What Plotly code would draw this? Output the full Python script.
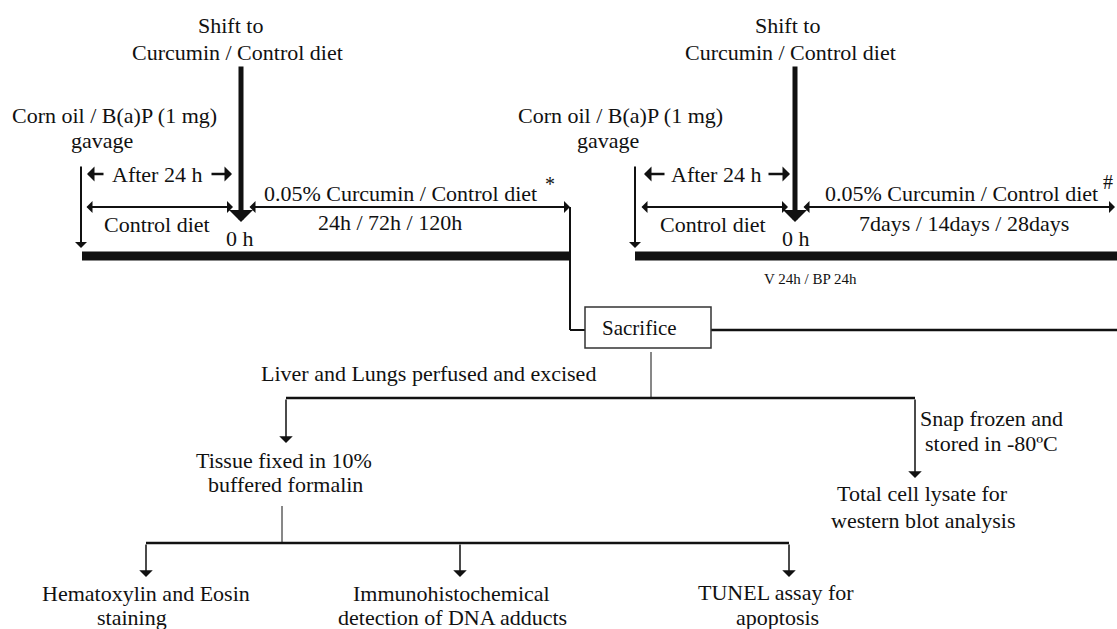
import plotly.graph_objects as go

W, H = 1117, 629
FONT = "Liberation Serif"
INK = "#111111"

# ---- text labels ----
label_texts = [
    "Shift to", "Curcumin / Control diet",
    "Corn oil / B(a)P (1 mg)", "gavage",
    "After 24 h", "Control diet", "0 h",
    "0.05% Curcumin / Control diet", "*", "24h / 72h / 120h",
    "Shift to", "Curcumin / Control diet",
    "Corn oil / B(a)P (1 mg)", "gavage",
    "After 24 h", "Control diet", "0 h",
    "0.05% Curcumin / Control diet", "#", "7days / 14days / 28days",
    "V 24h / BP 24h",
    "Sacrifice",
    "Liver and Lungs perfused and excised",
    "Tissue fixed in 10%", "buffered formalin",
    "Snap frozen and", "stored in -80ºC",
    "Total cell lysate for", "western blot analysis",
    "Hematoxylin and Eosin", "staining",
    "Immunohistochemical", "detection of DNA adducts",
    "TUNEL assay for", "apoptosis",
]
label_x = [230, 237, 114, 102, 157, 157, 240, 400, 550, 390,
           787, 790, 620, 608, 716, 713, 796, 961, 1108, 964,
           810, 639, 428, 284, 285, 991, 991, 922, 923,
           146, 132, 451, 452, 776, 777]
label_y = [25, 52, 115, 140, 174, 224, 238, 193, 184, 222,
           25, 52, 115, 140, 174, 224, 238, 193, 182, 223,
           279, 328, 373, 460, 484, 418, 443, 493, 520,
           593, 617, 593, 617, 592, 617]
label_size = [22, 22, 22, 22, 22, 22, 22, 22, 20, 22,
              22, 22, 22, 22, 22, 22, 22, 22, 20, 22,
              15, 21, 22, 22, 22, 22, 22, 22, 22,
              22, 22, 22, 22, 22, 22]

# ---- arrows (tail -> head) ----
arrow_tail_x = [241, 81, 105, 210, 795, 635, 666, 767, 286, 915, 146, 460, 789]
arrow_tail_y = [65, 165, 174, 174, 65, 165, 174, 174, 398, 398, 543, 543, 543]
arrow_head_x = [241, 81, 87, 232, 795, 635, 644, 790, 286, 915, 146, 460, 789]
arrow_head_y = [222, 248, 174, 174, 222, 248, 174, 174, 443, 478, 577, 577, 577]
arrow_width = [5, 2, 2.5, 2.5, 5, 2, 2.5, 2.5, 1.5, 1.5, 1.5, 1.5, 1.5]

# ---- double-headed arrows ----
dbl_x0 = [85, 248, 640, 802]
dbl_x1 = [233, 570, 788, 1115]
dbl_y = [207, 207, 207, 207]

# ---- plain lines ----
line_x0 = [82, 635, 570, 570, 711, 651, 286, 282, 146]
line_y0 = [256, 256, 207, 330, 330, 352, 398, 506, 543]
line_x1 = [570, 1117, 570, 585, 1117, 651, 915, 282, 789]
line_y1 = [256, 256, 330, 330, 330, 398, 398, 543, 543]
line_w = [9, 9, 2, 2, 2.5, 1, 2.5, 1, 2.5]

box_x = [585, 711]
box_y = [307, 348]

fig = go.Figure()
fig.add_trace(go.Scatter(x=[0, W], y=[0, H], mode="markers",
                         marker=dict(opacity=0), hoverinfo="skip", showlegend=False))

shapes = []
for x0, y0, x1, y1, w in zip(line_x0, line_y0, line_x1, line_y1, line_w):
    shapes.append(dict(type="line", xref="x", yref="y", x0=x0, y0=y0, x1=x1, y1=y1,
                       line=dict(color=INK, width=w)))
shapes.append(dict(type="rect", xref="x", yref="y", x0=box_x[0], x1=box_x[1],
                   y0=box_y[0], y1=box_y[1], line=dict(color="#333333", width=1.5),
                   fillcolor="white"))

annotations = []
for t, x, y, s in zip(label_texts, label_x, label_y, label_size):
    annotations.append(dict(x=x, y=y, xref="x", yref="y", text=t, showarrow=False,
                            xanchor="center", yanchor="middle",
                            font=dict(family=FONT, size=s, color=INK)))

for tx, ty, hx, hy, w in zip(arrow_tail_x, arrow_tail_y, arrow_head_x, arrow_head_y, arrow_width):
    size = 0.8 if w >= 5 else (1.0 if w >= 2 else 1.5)
    annotations.append(dict(x=hx, y=hy, ax=tx, ay=ty, xref="x", yref="y",
                            axref="x", ayref="y", text="", showarrow=True,
                            arrowhead=1, arrowsize=size, arrowwidth=w,
                            arrowcolor=INK, standoff=0, startstandoff=0))

for x0, x1, y in zip(dbl_x0, dbl_x1, dbl_y):
    annotations.append(dict(x=x1, y=y, ax=x0, ay=y, xref="x", yref="y",
                            axref="x", ayref="y", text="", showarrow=True,
                            arrowhead=1, startarrowhead=1, arrowside="end+start",
                            arrowsize=1.0, startarrowsize=1.0, arrowwidth=2,
                            arrowcolor=INK, standoff=0, startstandoff=0))

fig.update_layout(
    width=W, height=H,
    margin=dict(l=0, r=0, t=0, b=0),
    paper_bgcolor="white", plot_bgcolor="white",
    font=dict(family=FONT, color=INK),
    xaxis=dict(range=[0, W], visible=False, fixedrange=True),
    yaxis=dict(range=[H, 0], visible=False, fixedrange=True),
    shapes=shapes, annotations=annotations, showlegend=False,
)

fig.write_html("out.html", config={"displayModeBar": False},
               post_script="document.body.style.margin='0px';document.body.style.overflow='hidden';")
